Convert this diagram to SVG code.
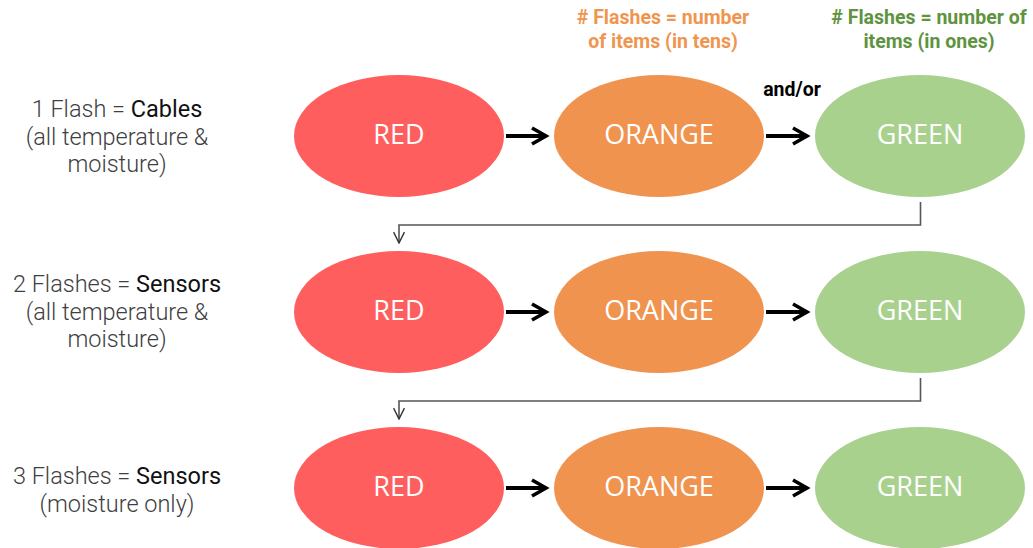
<svg xmlns="http://www.w3.org/2000/svg" width="1033" height="548" viewBox="0 0 1033 548">
<defs>
<style>
.red{fill:#FF5E5E}
.orange{fill:#F0934F}
.green{fill:#A9D18E}
.nl{font-family:"Open Sans","Liberation Sans",sans-serif;font-size:27px;fill:#fff;text-anchor:middle}
.lbl{font-family:Roboto,"Liberation Sans",sans-serif;font-size:23.5px;font-weight:300;fill:#404040;text-anchor:middle}
.lbl tspan.b{font-weight:400;fill:#111}
.hdr{font-family:Roboto,"Liberation Sans",sans-serif;font-size:19.5px;font-weight:700;text-anchor:middle}
.thick{stroke:#000;stroke-width:4;fill:none}
.thin{stroke:#555;stroke-width:1.6;fill:none}
</style>
<marker id="chev" viewBox="0 0 10 10" refX="8" refY="5" markerWidth="5" markerHeight="5" orient="auto" markerUnits="strokeWidth">
<path d="M1,1 L8,5 L1,9" fill="none" stroke="#000" stroke-width="1.8"/>
</marker>
<marker id="vee" viewBox="0 0 12 12" refX="11" refY="6" markerWidth="13" markerHeight="13" orient="auto" markerUnits="userSpaceOnUse">
<path d="M1,1 L11,6 L1,11" fill="none" stroke="#333" stroke-width="1.3"/>
</marker>
</defs>
<rect width="1033" height="548" fill="#fff"/>

<g id="header-orange"><text class="hdr" fill="#F0954E" x="663" y="24"># Flashes = number<tspan x="663" y="48">of items (in tens)</tspan></text></g>
<g id="header-green"><text class="hdr" fill="#5E9340" x="929" y="24"># Flashes = number of<tspan x="929" y="48">items (in ones)</tspan></text></g>
<g id="andor"><text class="hdr" fill="#000" font-size="19" x="792" y="96">and/or</text></g>

<g id="label1"><text class="lbl" x="117" y="117">1 Flash = <tspan class="b">Cables</tspan><tspan x="117" y="145">(all temperature &amp;</tspan><tspan x="117" y="172">moisture)</tspan></text></g>
<g id="label2"><text class="lbl" x="117" y="292">2 Flashes = <tspan class="b">Sensors</tspan><tspan x="117" y="320">(all temperature &amp;</tspan><tspan x="117" y="347">moisture)</tspan></text></g>
<g id="label3"><text class="lbl" x="117" y="484">3 Flashes = <tspan class="b">Sensors</tspan><tspan x="117" y="512">(moisture only)</tspan></text></g>

<g id="red1"><ellipse class="red" cx="399" cy="136" rx="105" ry="61"/><text class="nl" x="399" y="144">RED</text></g>
<g id="orange1"><ellipse class="orange" cx="659" cy="136" rx="105" ry="61"/><text class="nl" x="659" y="144">ORANGE</text></g>
<g id="green1"><ellipse class="green" cx="920" cy="136" rx="105" ry="61"/><text class="nl" x="920" y="144">GREEN</text></g>

<g id="red2"><ellipse class="red" cx="399" cy="312" rx="105" ry="61"/><text class="nl" x="399" y="320">RED</text></g>
<g id="orange2"><ellipse class="orange" cx="659" cy="312" rx="105" ry="61"/><text class="nl" x="659" y="320">ORANGE</text></g>
<g id="green2"><ellipse class="green" cx="920" cy="312" rx="105" ry="61"/><text class="nl" x="920" y="320">GREEN</text></g>

<g id="red3"><ellipse class="red" cx="399" cy="488" rx="105" ry="61"/><text class="nl" x="399" y="496">RED</text></g>
<g id="orange3"><ellipse class="orange" cx="659" cy="488" rx="105" ry="61"/><text class="nl" x="659" y="496">ORANGE</text></g>
<g id="green3"><ellipse class="green" cx="920" cy="488" rx="105" ry="61"/><text class="nl" x="920" y="496">GREEN</text></g>

<g id="connectors">
<path class="thick" marker-end="url(#chev)" d="M506,136 H546"/>
<path class="thick" marker-end="url(#chev)" d="M766,136 H807"/>
<path class="thick" marker-end="url(#chev)" d="M506,312 H546"/>
<path class="thick" marker-end="url(#chev)" d="M766,312 H807"/>
<path class="thick" marker-end="url(#chev)" d="M506,488 H546"/>
<path class="thick" marker-end="url(#chev)" d="M766,488 H807"/>
<path class="thin" marker-end="url(#vee)" d="M920.5,202 V225 H399 V243"/>
<path class="thin" marker-end="url(#vee)" d="M920.5,378 V401 H399 V419"/>
</g>
</svg>
